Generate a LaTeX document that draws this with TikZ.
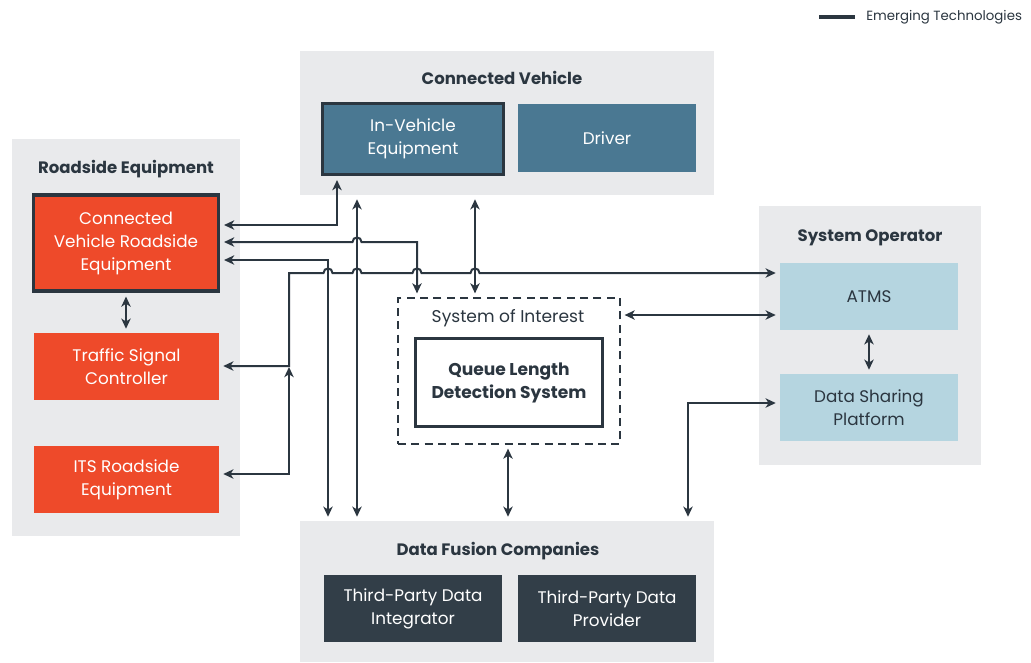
\documentclass[tikz,border=0pt]{standalone}
\usepackage{fontspec}
\setmainfont{Poppins}
\usetikzlibrary{arrows.meta,fit}

\definecolor{panel}{HTML}{E9EAEC}
\definecolor{ink}{HTML}{2B3640}
\definecolor{rsebox}{HTML}{EE4A2A}
\definecolor{cvbox}{HTML}{4A7892}
\definecolor{opbox}{HTML}{B5D5E0}
\definecolor{dfbox}{HTML}{323E48}

\tikzset{
  bodyfont/.style={font=\fontsize{12.6}{17.25}\selectfont},
  panelbox/.style={fill=panel, draw=none, inner sep=0pt},
  ptitle/.style={font=\fontsize{12.4}{14}\selectfont\bfseries, text=ink},
  % size given in pixels of the drawing grid
  sz/.style 2 args={minimum width=#1*0.75pt, minimum height=#2*0.75pt},
  unit/.style={inner sep=0pt, align=center, bodyfont},
  rseunit/.style={unit, fill=rsebox, text=white},
  cvunit/.style={unit, fill=cvbox, text=white},
  opunit/.style={unit, fill=opbox, text=ink},
  dfunit/.style={unit, fill=dfbox, text=white},
  emerging/.style={draw=ink, line width=2.3pt},
  conn/.style={draw=ink, line width=1.5pt,
    {Stealth[length=7.6pt,width=7pt,inset=2.2pt]}-{Stealth[length=7.6pt,width=7pt,inset=2.2pt]},
    shorten <=3pt, shorten >=3pt},
  hop/.style args={#1/#2}{insert path={-- (#1-4.5,#2) .. controls (#1-4.5,#2-6) and (#1+4.5,#2-6) .. (#1+4.5,#2)}},
}

\begin{document}
\begin{tikzpicture}[x=0.75pt,y=-0.75pt]
  \useasboundingbox[fill=white] (0,0) rectangle (1031,662);

  % legend
  \draw[ink, line width=3pt] (819,17) -- (855,17) coordinate (legline);
  \node[anchor=west, font=\fontsize{10}{12}\selectfont, text=ink, inner sep=0pt] (legtext) at (866,17) {Emerging Technologies};

  % panels
  \node[panelbox, fit={(12,139) (240,536)}] (rse) {};
  \node[panelbox, fit={(300,51) (714,195)}] (cv) {};
  \node[panelbox, fit={(759,206) (981,465)}] (so) {};
  \node[panelbox, fit={(300,521) (714,662)}] (dfc) {};

  \node[ptitle] (rsetitle) at (126,169) {Roadside Equipment};
  \node[ptitle] (cvtitle) at (502,78) {Connected Vehicle};
  \node[ptitle] (sotitle) at (870,238) {System Operator};
  \node[ptitle] (dfctitle) at (498,551) {Data Fusion Companies};

  % roadside equipment
  \node[rseunit, emerging, sz={185}{96}] (cvre) at (126,243) {Connected\\Vehicle Roadside\\Equipment};
  \node[rseunit, sz={185}{67}] (tsc) at (126.5,366.5) {Traffic Signal\\Controller};
  \node[rseunit, sz={185}{67}] (its) at (126.5,479.5) {ITS Roadside\\Equipment};

  % connected vehicle
  \node[cvunit, emerging, sz={181}{71}] (ive) at (413,139) {In-Vehicle\\Equipment};
  \node[cvunit, sz={178}{68}] (drv) at (607,138) {Driver};

  % system operator
  \node[opunit, sz={178}{67}] (atms) at (869,296.5) {ATMS};
  \node[opunit, sz={178}{67}] (dsp) at (869,407.5) {Data Sharing\\Platform};

  % data fusion companies
  \node[dfunit, sz={178}{67}] (tpdi) at (413,608.5) {Third-Party Data\\Integrator};
  \node[dfunit, sz={178}{67}] (tpdp) at (607,608.5) {Third-Party Data\\Provider};

  % system of interest
  \node[draw=ink, dash pattern=on 6pt off 4pt, line width=0.9pt, inner sep=0pt, sz={222}{146}] (soi) at (509,371) {};
  \node[text=ink, font=\fontsize{12.8}{14}\selectfont] (soititle) at (508,318) {System of Interest};
  \node[draw=ink, line width=2.3pt, fill=white, inner sep=0pt, align=center,
        font=\fontsize{12.8}{17.25}\selectfont\bfseries, text=ink,
        sz={187}{88}] (qlds) at (509,382.5) {Queue Length\\Detection System};

  % bend points
  \coordinate (k1) at (337,225);
  \coordinate (k2) at (417,242);
  \coordinate (k3) at (328,260);
  \coordinate (k4) at (357,230);
  \coordinate (k5) at (475,250);
  \coordinate (tj) at (289,366);
  \coordinate (tc) at (289,273);
  \coordinate (ij) at (289,474);
  \coordinate (iu) at (289,367);
  \coordinate (k6) at (700,315);
  \coordinate (k7) at (508,480);
  \coordinate (k8) at (688,403);

  % connectors
  \draw[conn] (cvre.east |- k1) -- (k1) -- (ive.south -| k1);
  \draw[conn] (cvre.east |- k2) [hop=357/242] -- (k2) -- (soi.north -| k2);
  \draw[conn] (cvre.east |- k3) -- (k3) -- (dfc.north -| k3);
  \draw[conn] (cv.south -| k4) -- (dfc.north -| k4);
  \draw[conn] (cv.south -| k5) -- (soi.north -| k5);
  \draw[conn] (tsc.east |- tj) -- (tj) -- (tc)
      [hop=328/273] [hop=357/273] [hop=417/273] [hop=475/273]
      -- (atms.west |- tc);
  \draw[conn, shorten >=0pt] (its.east |- ij) -- (ij) -- (iu);
  \draw[conn] (soi.east |- k6) -- (atms.west |- k6);
  \draw[conn] (soi.south -| k7) -- (dfc.north -| k7);
  \draw[conn] (dfc.north -| k8) -- (k8) -- (dsp.west |- k8);
  \draw[conn] (atms.south) -- (dsp.north);
  \draw[conn] (cvre.south) -- (tsc.north -| cvre.south);
\end{tikzpicture}
\end{document}
